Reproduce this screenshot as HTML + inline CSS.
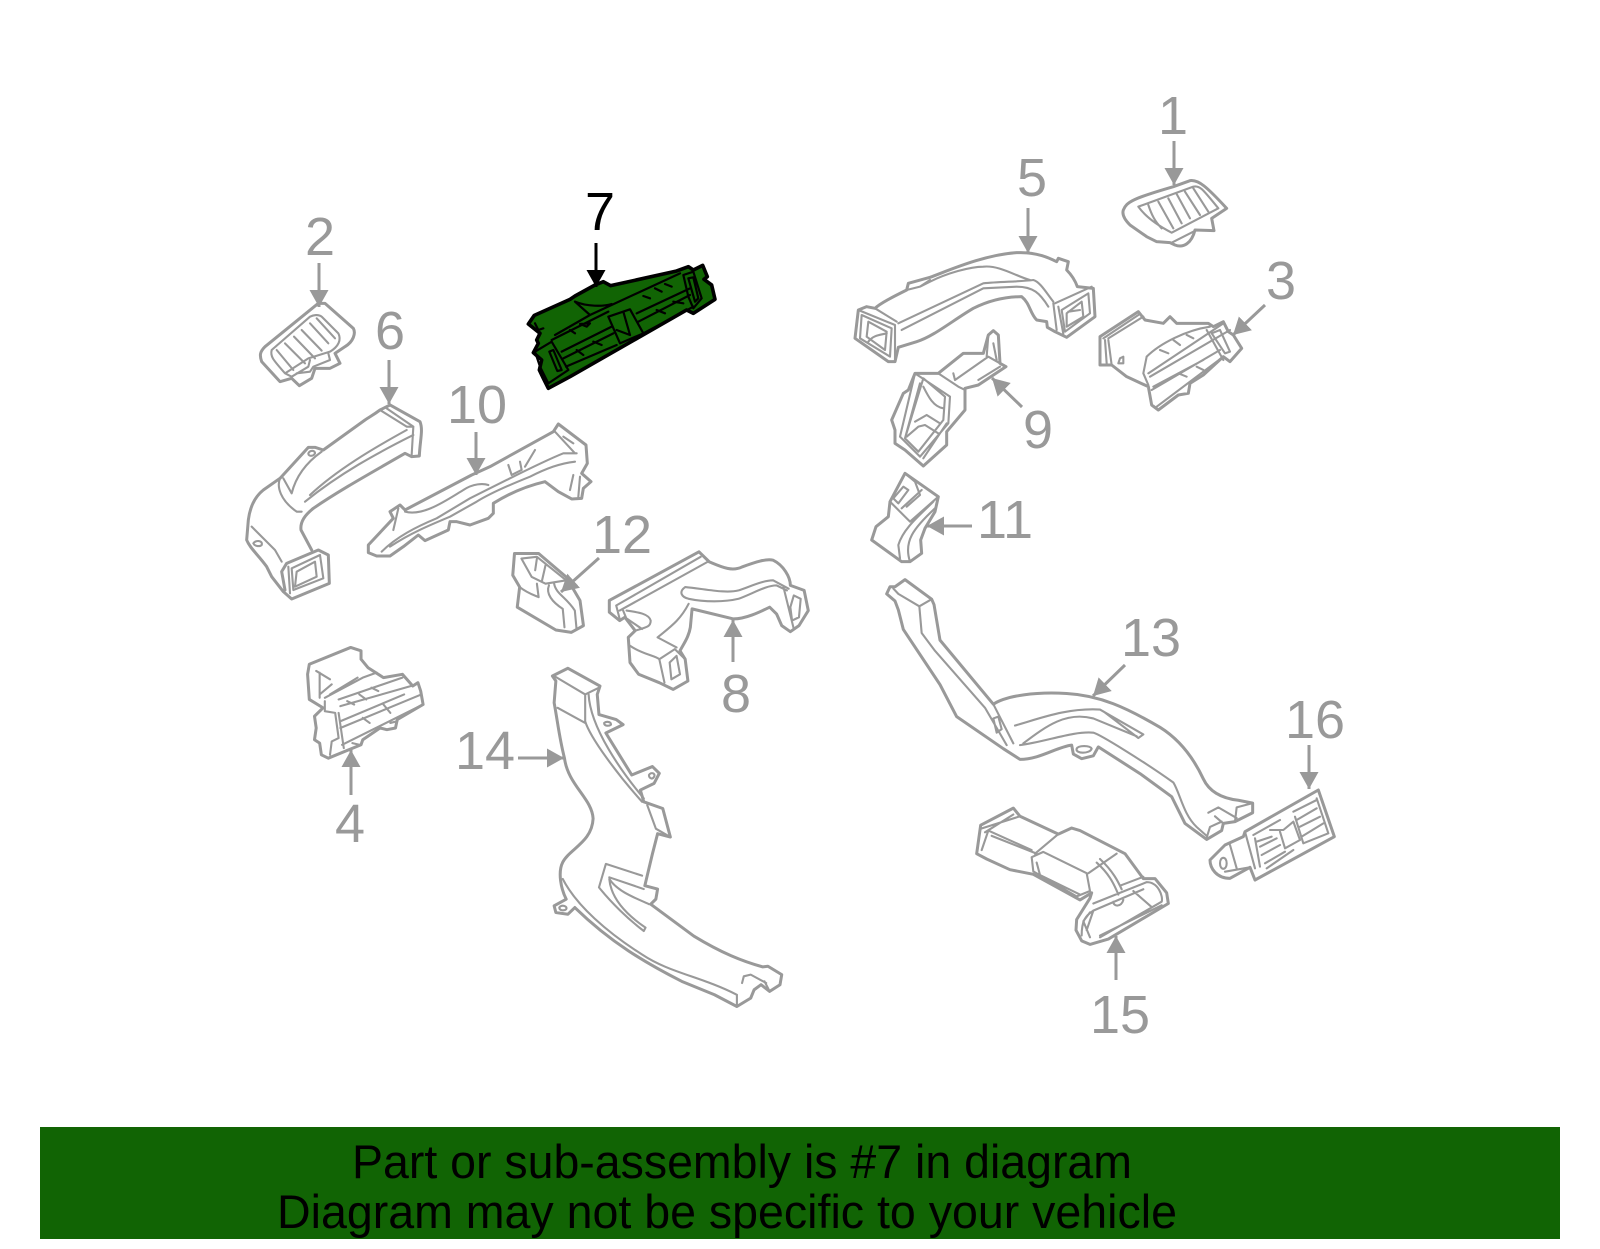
<!DOCTYPE html>
<html><head><meta charset="utf-8"><title>Diagram</title>
<style>
html,body{margin:0;padding:0;background:#fff}
svg{display:block}
path{fill:none;vector-effect:non-scaling-stroke;stroke-linejoin:round;stroke-linecap:round}
.o{stroke:#999;stroke-width:3}
.i{stroke:#999;stroke-width:2.1}
.a{stroke:#999;stroke-width:3;stroke-linecap:butt}
.b{stroke:#000;stroke-width:3;stroke-linecap:butt}
text{font-family:"Liberation Sans",sans-serif}
.n{font-size:54px;fill:#999;text-anchor:middle}
</style></head><body>
<svg xmlns="http://www.w3.org/2000/svg" width="1600" height="1249" viewBox="0 0 1600 1249">
<defs>
<marker id="g" markerUnits="userSpaceOnUse" markerWidth="20" markerHeight="20" refX="17" refY="10" orient="auto"><polygon points="0,0.5 17,10 0,19.5" fill="#999"/></marker>
<marker id="k" markerUnits="userSpaceOnUse" markerWidth="20" markerHeight="20" refX="17" refY="10" orient="auto"><polygon points="0,0.5 17,10 0,19.5" fill="#000"/></marker>
</defs>
<rect width="1600" height="1249" fill="#fff"/>

<!-- part 7 -->
<g transform="translate(480,170) scale(.33333)">
<path style="fill:#116404;stroke:#000;stroke-width:3.6" d="M145,462 L163,436 L270,388 L285,378 L345,345 L370,335 L392,347 L590,303 L625,290 L640,300 L668,286 L682,320 L672,328 L695,345 L705,388 L640,430 L620,420 L270,620 L205,655 L190,625 L178,600 L185,570 L160,548 L175,520 L170,510 L180,490 Z"/>
<path style="stroke:#000;stroke-width:2.2" d="M285,395 C320,410 370,410 395,402 M285,395 L330,435 M225,495 L330,435 L600,310 M215,510 L385,425 M245,545 L395,470 M250,565 L400,490 M258,590 L410,525 M470,430 L630,355 M475,455 L630,375 M490,490 L640,410 M385,440 L450,418 L490,490 L420,520 Z M430,425 L450,495 M410,480 L450,495 M610,315 L640,305 L665,385 L640,415 L625,380 Z M625,325 L640,322 L655,385 L645,395 Z M165,545 L215,515 L265,600 L205,640 L180,590 Z M208,545 L220,540 L245,600 L232,603 Z M290,540 L310,555 M340,515 L365,525 M270,480 L285,490 M300,462 L330,460 L320,470 Z M490,378 L510,385 M525,355 L545,365 M555,342 L575,350 M530,420 L555,430 M580,395 L610,400 M165,460 L175,480 L190,475"/>
</g>

<!-- zoom 3 group: 2, 6, 10 -->
<g transform="translate(230,200) scale(.33333)">
<path class="o" d="M265,310 L285,310 L370,385 C378,400 370,425 345,440 L315,460 L330,490 L300,505 L255,505 L245,535 L208,557 L185,535 L150,545 L95,485 C88,465 90,455 105,440 Z"/>
<path class="i" d="M125,450 C120,470 130,480 165,520 L235,475 L300,455 C325,440 335,420 325,400 L275,350 C265,342 250,345 240,350 Z M140,450 L190,510 M165,430 L225,490 M192,410 L255,475 M215,390 L275,452 M240,370 L295,430 M260,355 L315,415 M165,520 L185,530 L235,500 L240,480 M200,520 L240,515 L250,500 L300,480 L295,460"/>
<path class="o" d="M480,615 L570,665 C580,690 570,720 568,768 L545,770 L525,760 C430,815 330,870 250,925 C225,945 210,965 213,990 L245,1050 M480,615 L450,630 C430,645 420,650 405,660 L280,750 L255,742 L235,742 L150,835 L100,870 C75,890 60,920 55,960 L50,1020 C60,1045 85,1065 110,1100 L125,1130 L160,1175 L185,1197 L298,1150 L295,1065 L265,1050 L170,1090 L155,1115 L165,1170"/>
<path class="i" d="M175,1100 L180,1180 M185,1105 L270,1065 L280,1135 L190,1170 Z M200,1115 L255,1085 L260,1130 L195,1160 Z M450,630 L530,680 L550,680 L545,765 M470,625 L550,680 M530,690 C430,745 320,810 240,885 M550,705 C440,760 330,820 225,905 M150,835 C140,860 150,900 200,935 L215,935 M160,835 L185,880 C200,820 240,780 275,755 M235,760 C235,770 250,770 255,760 C255,750 240,750 235,760 Z M65,980 L135,1050 L155,1085 M70,1030 C75,1020 100,1020 95,1035 C90,1040 75,1040 70,1030 Z"/>
<path class="o" d="M985,672 L1068,735 L1072,790 L1055,820 L1083,845 L1060,865 L1055,895 L1025,897 L985,875 L945,845 C880,860 830,885 790,910 L790,940 L775,955 L720,975 L680,965 L660,965 L655,990 L585,1022 L565,1005 L520,1040 L480,1068 L440,1068 L415,1058 L415,1035 L490,955 L480,935 L510,915 L525,930 L725,825 L780,800 L970,695 Z"/>
<path class="i" d="M525,935 C580,950 650,900 700,870 C730,850 760,850 775,855 M455,1055 C500,1010 560,980 620,955 L720,895 L770,870 L830,840 C890,810 950,780 1000,760 L1040,760 M480,1040 C540,1000 600,975 660,950 L740,905 C780,880 850,850 900,830 C950,805 990,790 1035,785 M975,695 L1035,760 M1000,710 L1030,730 M835,795 L845,825 L875,810 L870,785 M885,800 L915,750 M490,990 L505,925 M1030,825 L1020,870 M1050,830 L1045,890"/>
</g>

<!-- zoom 4 group: 1, 5, 9, 3 -->
<g transform="translate(840,90) scale(.33333)">
<path class="o" d="M850,360 C860,335 880,325 1000,290 L1050,272 C1075,268 1100,290 1160,355 L1115,385 L1122,422 L1065,420 C1055,460 1030,475 1005,465 L990,458 L950,455 L920,440 L870,405 C855,390 845,375 850,360 Z"/>
<path class="i" d="M895,350 L1060,290 C1080,285 1090,300 1135,355 L995,428 C960,410 920,385 895,350 Z M925,345 C935,375 945,395 965,415 M955,335 L1000,415 M985,325 L1025,400 M1010,312 L1050,385 M1035,305 L1080,375 M1060,295 L1105,365 M995,458 L1060,425"/>
<path class="o" d="M45,745 L55,660 L80,650 L105,655 C120,640 160,620 200,600 L205,580 L270,562 C330,540 430,495 530,488 C590,485 630,505 650,515 L655,505 L685,515 L680,540 C695,555 705,570 712,590 L760,595 L765,680 L680,742 L645,725 L622,712 L620,695 L590,690 C570,670 570,640 545,620 C500,620 450,630 400,655 C340,690 280,740 230,755 L175,772 L165,815 L145,815 Z"/>
<path class="i" d="M55,660 L165,705 L165,815 M65,675 L155,715 L150,800 L60,745 Z M85,695 L140,725 L135,780 L80,740 Z M85,755 C100,735 120,735 140,730 M105,655 L170,695 M175,700 L430,580 C480,575 540,575 580,570 C600,575 620,610 640,635 M185,720 L430,595 L530,590 C580,590 600,610 625,650 M200,600 L240,590 L270,575 C320,550 390,530 430,530 C480,525 530,560 570,570 M240,590 L270,570 M645,640 L755,590 M640,640 L650,720 M655,650 L670,732 M665,660 L745,610 L750,670 L675,725 Z M680,670 L725,635 L730,680 L680,710 Z M685,665 L720,660"/>
<path class="o" d="M225,850 L295,850 L370,790 L430,790 L445,735 L460,722 L475,735 L480,820 L498,830 L415,885 L375,895 L375,960 L320,1025 L320,1065 L250,1128 L195,1080 L165,1060 L165,1020 L155,990 L190,910 L205,900 Z"/>
<path class="i" d="M295,850 L355,890 L375,900 M225,850 L330,920 L325,1000 L240,1100 L180,1040 Z M250,865 L315,920 L310,990 L235,1085 L195,1045 Z M240,880 L195,1045 M250,890 C265,920 280,950 310,955 M200,1040 L235,1010 L255,1005 L295,1030 M225,995 L260,975 L300,1000 M320,1000 L250,1105 M340,850 L345,870 L445,800 L480,820 M445,735 L440,800 M460,760 L470,810 M415,870 L480,830"/>
<path class="o" d="M780,740 L895,665 L915,690 L970,700 L990,680 L1010,700 L1105,700 L1120,710 L1150,695 L1165,725 L1180,735 L1205,775 L1170,815 L1150,800 L1090,855 L1050,880 L1045,910 L1015,915 L955,960 L935,945 L925,890 L860,860 L815,825 L780,825 Z"/>
<path class="i" d="M790,745 L895,675 M805,745 L910,680 M795,750 L800,820 M805,750 L815,825 M840,805 L850,800 L850,820 L835,820 Z M920,800 C960,760 1040,720 1110,710 M920,800 L910,850 L925,885 M925,850 L1150,700 M930,860 L1170,720 M935,900 L1140,780 M950,950 L1150,800 M940,890 L1090,810 M1115,730 L1140,720 L1170,785 L1155,790 Z M1100,720 L1150,810 M960,780 L985,790 M1000,750 L1020,765 M1040,735 L1060,745 M1015,850 L1040,860 M1070,830 L1090,840"/>
</g>

<!-- zoom 5 group: 12, 8, 4, 14 -->
<g transform="translate(280,530) scale(.34483,.33557)">
<path class="o" d="M680,70 L750,70 L830,140 L870,210 L880,285 L845,305 L800,298 L688,230 L695,170 L675,135 Z"/>
<path class="i" d="M700,85 L745,80 L830,150 L770,160 L730,140 Z M745,85 L740,120 M770,105 L760,150 M745,160 L750,200 M780,165 C770,190 790,215 820,235 L825,290 M795,160 C800,190 830,200 855,240 L860,295 M695,170 C720,190 740,195 750,200"/>
<path class="o" d="M955,210 L1215,65 L1245,95 C1280,110 1310,125 1340,110 C1380,95 1410,85 1430,90 C1460,105 1480,140 1480,165 L1520,180 L1532,240 L1505,285 L1480,303 L1455,285 L1440,250 L1420,230 C1390,245 1350,265 1315,265 L1195,235 L1190,290 C1185,320 1170,340 1160,360 L1175,385 L1183,450 L1140,475 L1100,455 L1040,430 L1015,395 L1010,320 L1030,300 L1000,260 L985,270 L955,245 Z"/>
<path class="i" d="M975,225 L1220,80 M985,240 L1240,95 M975,225 L985,265 M995,240 L1005,265 M1005,240 C1040,245 1070,250 1075,270 C1075,290 1060,290 1030,300 M1000,260 L1050,295 M1095,320 C1130,290 1160,270 1185,220 M1095,320 L1150,350 M1185,205 C1165,200 1155,185 1175,170 C1230,175 1290,190 1330,180 C1360,170 1400,150 1430,150 L1475,175 M1185,205 C1230,215 1290,215 1330,205 C1370,190 1410,165 1440,165 L1470,180 M1015,345 C1050,370 1090,375 1100,385 L1145,355 L1175,385 M1100,385 L1115,455 M1130,395 L1150,375 L1160,430 L1135,445 Z M1460,170 L1490,295 M1490,195 L1510,205 L1505,260 L1485,270 L1480,230 Z"/>
<path class="o" d="M85,400 L205,350 L235,360 L235,385 L255,410 L300,440 L355,430 L385,465 L400,455 L408,480 L415,520 L340,565 L335,590 L310,595 L290,590 L240,625 L235,640 L140,680 L120,670 L115,635 L100,625 L105,590 L100,555 L125,530 L85,505 L80,430 Z"/>
<path class="i" d="M105,420 L145,445 M115,425 L115,500 M150,460 L115,490 M130,500 L240,440 L280,425 M145,490 L225,440 M170,505 L355,440 M175,525 L380,465 M175,590 L410,490 M180,640 L415,520 M175,570 L360,490 M130,510 L130,540 L160,545 L170,620 L150,630 L145,670 M170,545 L185,650 M195,510 L215,520 M230,490 L250,505 M265,470 L285,480 M240,560 L260,575 M300,520 L320,545 M320,575 L340,570 M210,635 L230,640"/>
<path class="o" d="M790,435 L835,412 L928,465 L920,490 L925,550 L975,565 L995,580 L945,605 L960,630 L1020,730 L1080,705 L1100,725 L1085,755 L1045,775 L1055,810 L1110,830 L1132,915 L1095,905 L1080,965 L1058,1060 L1095,1070 L1090,1100 L1075,1115 L1200,1210 C1280,1260 1340,1285 1400,1302 L1415,1300 L1455,1325 L1450,1355 L1420,1375 L1395,1355 L1375,1370 L1365,1395 L1325,1420 L1260,1385 L1165,1345 C1060,1290 960,1230 855,1125 L835,1145 L800,1140 L795,1120 L830,1100 C815,1070 805,1020 820,990 C840,950 905,930 908,860 C905,800 835,760 825,680 C810,620 805,570 795,515 L800,450 Z"/>
<path class="i" d="M795,435 L885,490 L925,470 M885,490 L885,570 C900,620 980,730 1050,810 M895,490 C900,590 990,720 1055,800 M805,530 L885,575 M1065,820 L1090,890 L1132,915 M945,995 L1050,1030 M945,995 L925,1065 C960,1110 1010,1160 1055,1195 L1060,1185 C1010,1150 960,1100 955,1040 M955,1035 L1055,1070 M955,1040 C980,1080 1040,1100 1070,1115 M820,1040 C860,1120 950,1200 1050,1265 C1130,1320 1220,1330 1325,1385 M1340,1350 L1345,1330 L1365,1325 L1410,1350 M1325,1385 L1325,1420 M1405,1345 L1420,1375 M810,1125 C815,1115 835,1120 830,1130 C825,1135 810,1135 810,1125 Z M940,575 C945,570 960,570 960,580 C955,585 940,585 940,575 Z M1070,730 C1075,720 1090,725 1085,735 C1080,745 1070,740 1070,730 Z"/>
</g>

<!-- part 11 -->
<g transform="translate(860,465) scale(.33333)">
<path class="o" d="M135,25 L235,95 L225,140 L195,190 L182,225 L185,265 L150,290 L125,290 L35,225 L48,185 L85,155 L90,110 Z"/>
<path class="i" d="M90,110 L150,170 L235,95 M100,100 L130,65 L145,75 L115,115 Z M125,130 L185,75 M135,25 L165,50 L180,90 L140,125 M120,280 L115,240 C130,190 180,150 220,110 M150,290 C130,230 160,190 225,130"/>
</g>

<!-- part 16 -->
<g transform="translate(1200,780) scale(.33333)">
<path class="o" d="M355,30 L403,170 L165,300 L150,262 L90,295 C50,295 30,265 30,240 L75,195 L130,170 L135,155 Z"/>
<path class="i" d="M135,155 L165,265 M160,165 L240,120 M165,175 L180,260 M170,185 L215,170 M180,200 L230,175 M185,225 L240,195 M195,250 L255,215 M200,265 L280,210 M280,95 L350,60 M290,120 L350,85 M300,140 L360,110 M305,170 L370,130 M310,190 L385,160 M350,55 L385,160 M285,110 L310,190 M210,150 L250,150 L280,125 L300,180 L255,205 L240,155 M60,250 C60,228 80,228 80,250 C80,272 60,272 60,250 Z M90,195 L110,265 M75,275 L150,262"/>
</g>

<!-- zoom 6 group: 13, 15 -->
<g transform="translate(860,480) scale(.33333,.35587)">
<path class="o" d="M135,280 L215,335 L222,350 L240,450 L400,630 C440,605 530,595 620,600 C720,605 800,640 900,695 C960,730 1000,780 1030,840 C1050,880 1090,895 1135,900 L1178,908 L1178,935 L1125,960 L1090,965 L1085,985 L1040,1010 L975,965 L935,890 L840,825 L715,750 L700,775 L665,783 L640,770 L635,745 C590,750 540,785 480,785 L430,755 L290,665 L240,575 L130,420 L115,365 L105,340 L80,320 L90,300 L105,300 Z"/>
<path class="i" d="M100,305 L115,320 L178,355 L215,335 M178,355 L185,430 L225,480 L375,640 L440,745 M400,630 L460,740 M400,670 L415,665 L425,700 L410,710 Z M465,690 C540,670 620,640 720,645 L850,715 L835,725 L730,650 M490,740 C560,690 620,650 700,670 L830,720 M480,745 C560,735 640,705 700,710 C720,715 850,790 940,850 C960,880 970,940 1010,975 L1040,1000 M1045,935 L1075,920 L1130,950 M1065,945 L1090,965 M1040,1005 L1050,975 L1085,960 M1125,960 L1130,920 L1178,908 M650,755 C645,770 690,770 695,755 C690,745 655,745 650,755 Z"/>
<path class="o" d="M350,1050 L362,970 L460,922 L480,945 L595,995 L635,978 L660,985 L795,1050 L850,1120 L885,1120 L920,1160 L925,1190 L745,1290 L690,1305 L665,1295 L648,1265 L650,1235 L690,1175 L695,1160 L660,1180 L520,1108 L450,1095 L380,1065 Z"/>
<path class="i" d="M362,980 L480,945 M375,990 L460,940 M365,1040 L385,985 L515,1040 M395,1000 L530,1050 M515,1060 L520,1100 L650,1170 L690,1155 L680,1105 L550,1045 Z M530,1075 L540,1110 L660,1165 M595,995 L525,1050 M685,1105 L770,1050 M720,1065 C760,1100 775,1130 785,1150 M710,1075 C745,1105 760,1130 775,1165 M780,1140 L850,1115 M700,1190 L860,1130 C895,1130 910,1170 905,1185 L720,1285 M665,1280 C665,1240 675,1225 700,1210 L850,1150 M690,1285 L670,1240 L690,1215 M820,1155 L875,1200 M760,1185 C760,1200 785,1200 790,1180 M700,1210 L680,1265 M720,1280 L905,1195"/>
</g>

<!-- arrows -->
<path class="a" marker-end="url(#g)" d="M319,263 L319,307"/>
<path class="a" marker-end="url(#g)" d="M389,360 L389,404"/>
<path class="a" marker-end="url(#g)" d="M476,432 L476,475"/>
<path class="b" marker-end="url(#k)" d="M596,243 L596,287"/>
<path class="a" marker-end="url(#g)" d="M1174,141 L1174,185"/>
<path class="a" marker-end="url(#g)" d="M1028,208 L1028,253"/>
<path class="a" marker-end="url(#g)" d="M1265,305 L1233,335"/>
<path class="a" marker-end="url(#g)" d="M1022,407 L992,378"/>
<path class="a" marker-end="url(#g)" d="M599,558 L561,592"/>
<path class="a" marker-end="url(#g)" d="M733,662 L733,620"/>
<path class="a" marker-end="url(#g)" d="M351,795 L351,750"/>
<path class="a" marker-end="url(#g)" d="M518,758 L564,758"/>
<path class="a" marker-end="url(#g)" d="M972,526 L927,526"/>
<path class="a" marker-end="url(#g)" d="M1125,665 L1093,696"/>
<path class="a" marker-end="url(#g)" d="M1309,745 L1309,789"/>
<path class="a" marker-end="url(#g)" d="M1116,980 L1116,936"/>

<!-- numbers -->
<text class="n" x="1173" y="134">1</text>
<text class="n" x="320" y="255">2</text>
<text class="n" x="1281" y="299">3</text>
<text class="n" x="350" y="842">4</text>
<text class="n" x="1032" y="196">5</text>
<text class="n" x="390" y="349">6</text>
<text class="n" x="600" y="230" style="fill:#000">7</text>
<text class="n" x="736" y="712">8</text>
<text class="n" x="1038" y="448">9</text>
<text class="n" x="477" y="423">10</text>
<text class="n" x="1005" y="538">11</text>
<text class="n" x="622" y="553">12</text>
<text class="n" x="1151" y="656">13</text>
<text class="n" x="485" y="769">14</text>
<text class="n" x="1120" y="1033">15</text>
<text class="n" x="1315" y="738">16</text>

<!-- banner -->
<rect x="40" y="1127" width="1520" height="112" fill="#116404"/>
<text x="352" y="1178" font-size="47" fill="#000" textLength="780" lengthAdjust="spacingAndGlyphs">Part or sub-assembly is #7 in diagram</text>
<text x="277" y="1228" font-size="47" fill="#000" textLength="900" lengthAdjust="spacingAndGlyphs">Diagram may not be specific to your vehicle</text>
</svg>
</body></html>
